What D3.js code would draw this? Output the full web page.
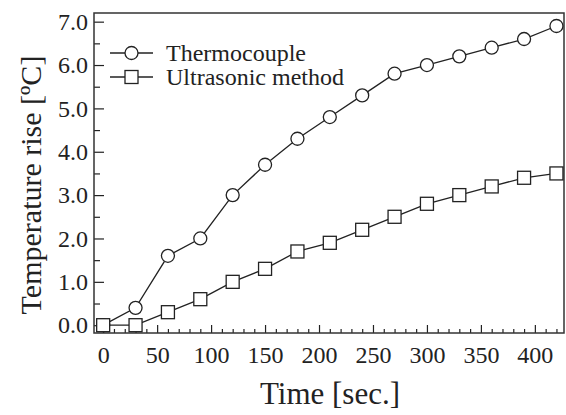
<!DOCTYPE html>
<html>
<head>
<meta charset="utf-8">
<script src="https://cdn.jsdelivr.net/npm/d3@7"></script>
<style>
  body { margin: 0; background: #fff; }
  text { font-family: "Liberation Serif", "Times New Roman", serif; fill: #222; }
</style>
</head>
<body>
<div id="chart"></div>
<script>
const times = [0, 30, 60, 90, 120, 150, 180, 210, 240, 270, 300, 330, 360, 390, 420];
const thermocouple = [0, 0.4, 1.6, 2.0, 3.0, 3.7, 4.3, 4.8, 5.3, 5.8, 6.0, 6.2, 6.4, 6.6, 6.9];
const ultrasonic = [0, 0, 0.3, 0.6, 1.0, 1.3, 1.7, 1.9, 2.2, 2.5, 2.8, 3.0, 3.2, 3.4, 3.5];
const seriesNames = ["Thermocouple", "Ultrasonic method"];
const xTicks = [0, 50, 100, 150, 200, 250, 300, 350, 400];
const yTicks = [0, 1, 2, 3, 4, 5, 6, 7];

const W = 566, H = 415;
const margin = { top: 13, right: 2, bottom: 82, left: 94 };
const width = W - margin.left - margin.right;
const height = H - margin.top - margin.bottom;

const svg = d3.select("#chart").append("svg")
  .attr("width", W)
  .attr("height", H);

const g = svg.append("g")
  .attr("transform", `translate(${margin.left},${margin.top})`);

const x = d3.scaleLinear().domain([-8.5, 427]).range([0, width]);
const y = d3.scaleLinear().domain([-0.18, 7.2]).range([height, 0]);

// minor ticks
const xMinor = d3.range(0, 430, 10).filter(v => v % 50 !== 0);
const yMinor = d3.range(0.5, 7.2, 1);

g.append("g")
  .attr("transform", `translate(0,${height})`)
  .call(d3.axisBottom(x).tickValues(xMinor).tickSize(-4).tickFormat(""))
  .call(a => a.select(".domain").remove());

g.append("g")
  .call(d3.axisLeft(y).tickValues(yMinor).tickSize(-6).tickFormat(""))
  .call(a => a.select(".domain").remove());

const xAxis = g.append("g")
  .attr("transform", `translate(0,${height})`)
  .call(d3.axisBottom(x).tickValues(xTicks).tickSize(-8).tickPadding(13));
xAxis.select(".domain").remove();
xAxis.selectAll("text").style("font-size", "24px");

const yAxis = g.append("g")
  .call(d3.axisLeft(y).tickValues(yTicks).tickSize(-10).tickPadding(6).tickFormat(d3.format(".1f")));
yAxis.select(".domain").remove();
yAxis.selectAll("text").style("font-size", "24px");

g.selectAll(".tick line").attr("stroke", "#222").attr("stroke-width", 1.2);

// frame
g.append("rect")
  .attr("width", width)
  .attr("height", height)
  .attr("fill", "none")
  .attr("stroke", "#333")
  .attr("stroke-width", 1.5);

// lines
const line = d3.line()
  .x((d, i) => x(times[i]))
  .y(d => y(d));

[thermocouple, ultrasonic].forEach(vals => {
  g.append("path")
    .datum(vals)
    .attr("d", line)
    .attr("fill", "none")
    .attr("stroke", "#222")
    .attr("stroke-width", 1.3);
});

g.selectAll("circle.pt")
  .data(thermocouple)
  .enter()
  .append("circle")
  .attr("class", "pt")
  .attr("cx", (d, i) => x(times[i]))
  .attr("cy", d => y(d))
  .attr("r", 6.5)
  .attr("fill", "#fff")
  .attr("stroke", "#222")
  .attr("stroke-width", 1.3);

const sq = 13;
g.selectAll("rect.pt")
  .data(ultrasonic)
  .enter()
  .append("rect")
  .attr("class", "pt")
  .attr("x", (d, i) => x(times[i]) - sq / 2)
  .attr("y", d => y(d) - sq / 2)
  .attr("width", sq)
  .attr("height", sq)
  .attr("fill", "#fff")
  .attr("stroke", "#222")
  .attr("stroke-width", 1.3);

// legend
const legend = svg.append("g").attr("transform", "translate(110,53)");
seriesNames.forEach((name, i) => {
  const row = legend.append("g").attr("transform", `translate(0,${i * 24})`);
  row.append("line")
    .attr("x1", 0).attr("x2", 43)
    .attr("stroke", "#222").attr("stroke-width", 1.3);
  if (i === 0) {
    row.append("circle").attr("cx", 21.5).attr("r", 6.5)
      .attr("fill", "#fff").attr("stroke", "#222").attr("stroke-width", 1.3);
  } else {
    row.append("rect").attr("x", 21.5 - sq / 2).attr("y", -sq / 2)
      .attr("width", sq).attr("height", sq)
      .attr("fill", "#fff").attr("stroke", "#222").attr("stroke-width", 1.3);
  }
  row.append("text")
    .attr("x", 56)
    .attr("y", 8)
    .style("font-size", "24px")
    .text(name);
});

// axis titles
svg.append("text")
  .attr("x", 330)
  .attr("y", 404)
  .attr("text-anchor", "middle")
  .style("font-size", "31px")
  .text("Time [sec.]");

svg.append("text")
  .attr("transform", "rotate(-90)")
  .attr("x", -185)
  .attr("y", 41)
  .attr("text-anchor", "middle")
  .style("font-size", "30px")
  .text("Temperature rise [ºC]");
</script>
</body>
</html>
